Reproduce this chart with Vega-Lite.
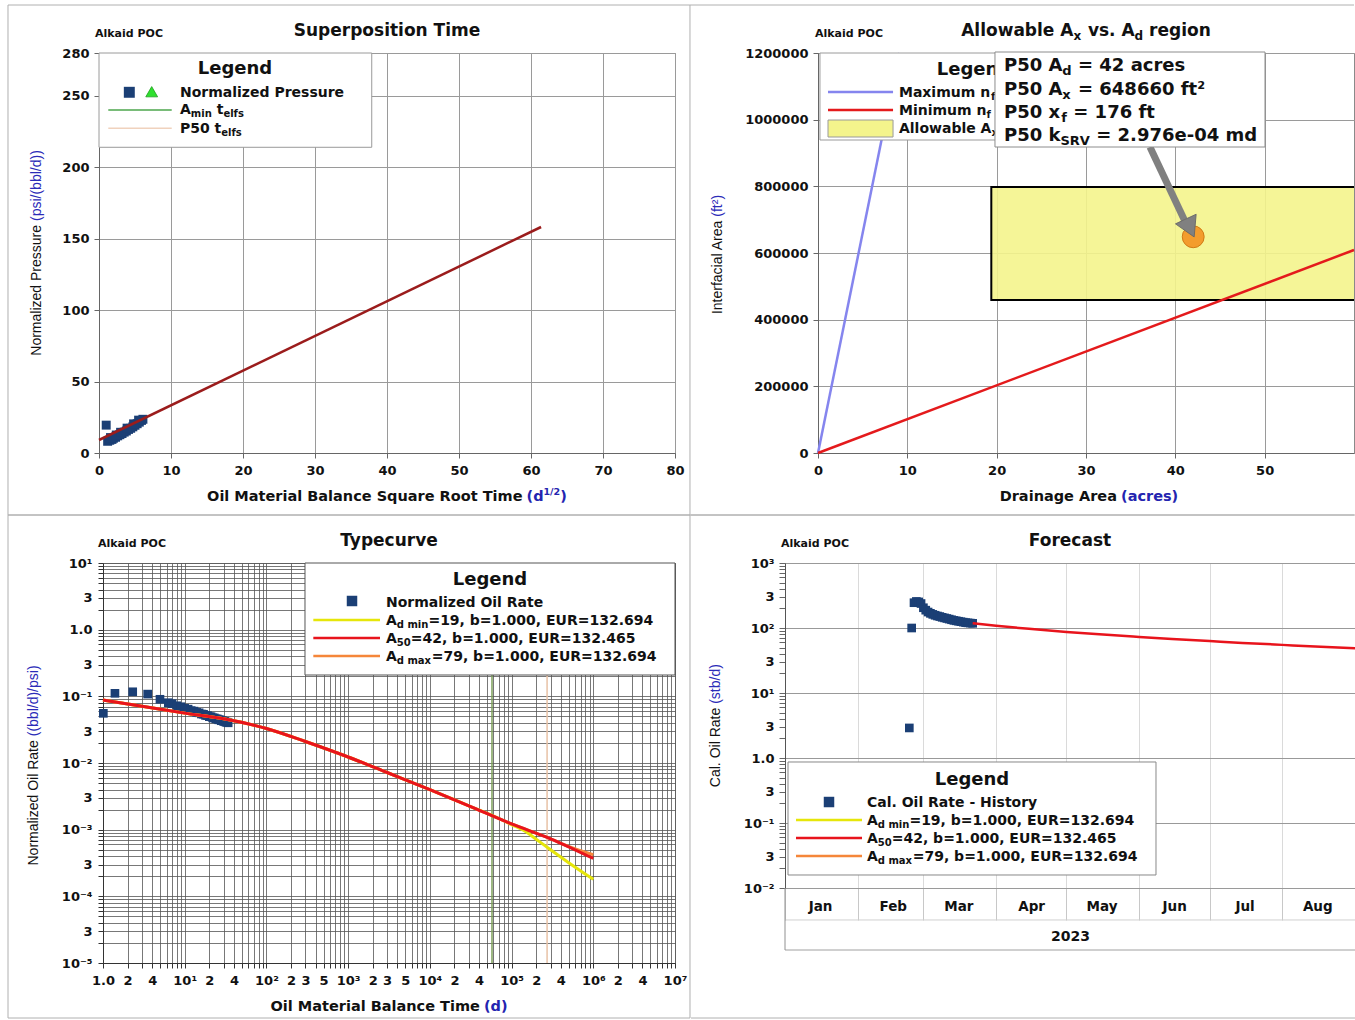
{
"$schema": "https://vega.github.io/schema/vega-lite/v6.json",
"background": "white",
"padding": {"left": 6, "top": 3, "right": 0, "bottom": 0},
"spacing": -2,
"config": {
  "view": {"stroke": "#8a8a8a", "strokeWidth": 1},
  "axis": {"labelFont": "DejaVu Sans", "labelFontWeight": "bold", "labelFontSize": 13, "labelColor": "#111", "titleFont": "DejaVu Sans", "titleFontWeight": "bold", "titleFontSize": 14, "titleColor": "#111", "domainColor": "#666", "tickColor": "#666", "gridColor": "#9a9a9a", "labelOverlap": false, "labelFlush": false},
  "text": {"font": "DejaVu Sans", "fontWeight": "bold", "fontSize": 14, "align": "left", "baseline": "alphabetic", "color": "#111"}
},
"datasets": {
  "tl_points": [{"x":1.0,"y":19.5},{"x":1.2,"y":8.2},{"x":1.5,"y":8.9},{"x":1.8,"y":9.5},{"x":2.0,"y":10.3},{"x":2.3,"y":11.0},{"x":2.6,"y":12.0},{"x":2.9,"y":12.8},{"x":3.2,"y":13.6},{"x":3.5,"y":14.6},{"x":3.8,"y":15.4},{"x":4.1,"y":16.5},{"x":4.4,"y":17.3},{"x":4.7,"y":18.3},{"x":5.0,"y":19.4},{"x":5.3,"y":20.5},{"x":5.6,"y":21.6},{"x":5.9,"y":22.8},{"x":6.1,"y":23.6},{"x":1.6,"y":10.8},{"x":2.4,"y":12.6},{"x":3.0,"y":14.5},{"x":3.9,"y":17.4},{"x":4.8,"y":20.4},{"x":5.5,"y":23.0}],
  "tl_fit": [{"x":0,"y":9.1},{"x":61.4,"y":158.2}],
  "tr_lines": [{"series":"Maximum nf","x":0,"y":0},{"series":"Maximum nf","x":9.09,"y":1200000},{"series":"Minimum nf","x":0,"y":0},{"series":"Minimum nf","x":60,"y":609000}],
  "tr_region": [{"xmin":19.4,"xmax":79,"ymin":459000,"ymax":798000}],
  "tr_p50": [{"Ad":42,"Ax":648660}],
  "bl_points": [{"t":1.01,"q":0.0556},{"t":1.4,"q":0.111},{"t":2.31,"q":0.117},{"t":3.52,"q":0.108},{"t":4.98,"q":0.0903},{"t":6.3,"q":0.0802},{"t":7,"q":0.0775},{"t":8,"q":0.0722},{"t":9,"q":0.0698},{"t":10,"q":0.066},{"t":11,"q":0.0642},{"t":12,"q":0.0611},{"t":13,"q":0.06},{"t":14,"q":0.0574},{"t":15,"q":0.0566},{"t":16,"q":0.0543},{"t":17,"q":0.0538},{"t":18,"q":0.0517},{"t":19,"q":0.0514},{"t":20,"q":0.0495},{"t":21,"q":0.0494},{"t":22,"q":0.0476},{"t":23,"q":0.0475},{"t":24,"q":0.0459},{"t":25,"q":0.0459},{"t":26,"q":0.0445},{"t":27,"q":0.0445},{"t":28,"q":0.0431},{"t":29,"q":0.0432},{"t":30,"q":0.042},{"t":31,"q":0.042},{"t":32,"q":0.0409},{"t":33,"q":0.0409},{"t":34,"q":0.0401}],
  "bl_curves": [
    {"s":"A50","t":1,"q":0.088},{"s":"A50","t":3,"q":0.071},{"s":"A50","t":10,"q":0.056},{"s":"A50","t":30,"q":0.046},{"s":"A50","t":100,"q":0.033},{"s":"A50","t":300,"q":0.021},{"s":"A50","t":1000,"q":0.0123},{"s":"A50","t":3000,"q":0.0072},{"s":"A50","t":10000,"q":0.004},{"s":"A50","t":30000,"q":0.00228},{"s":"A50","t":100000,"q":0.00122},{"s":"A50","t":300000,"q":0.00073},{"s":"A50","t":1000000,"q":0.00037},
    {"s":"Admin","t":1,"q":0.088},{"s":"Admin","t":3,"q":0.071},{"s":"Admin","t":10,"q":0.056},{"s":"Admin","t":30,"q":0.046},{"s":"Admin","t":100,"q":0.033},{"s":"Admin","t":300,"q":0.021},{"s":"Admin","t":1000,"q":0.0123},{"s":"Admin","t":3000,"q":0.0072},{"s":"Admin","t":10000,"q":0.004},{"s":"Admin","t":30000,"q":0.00228},{"s":"Admin","t":70000,"q":0.00147},{"s":"Admin","t":100000,"q":0.00119},{"s":"Admin","t":150000,"q":0.00093},{"s":"Admin","t":200000,"q":0.00072},{"s":"Admin","t":300000,"q":0.0005},{"s":"Admin","t":500000,"q":0.00032},{"s":"Admin","t":1000000,"q":0.00018},
    {"s":"Admax","t":1,"q":0.088},{"s":"Admax","t":3,"q":0.071},{"s":"Admax","t":10,"q":0.056},{"s":"Admax","t":30,"q":0.046},{"s":"Admax","t":100,"q":0.033},{"s":"Admax","t":300,"q":0.021},{"s":"Admax","t":1000,"q":0.0123},{"s":"Admax","t":3000,"q":0.0072},{"s":"Admax","t":10000,"q":0.004},{"s":"Admax","t":30000,"q":0.00228},{"s":"Admax","t":100000,"q":0.00122},{"s":"Admax","t":300000,"q":0.00073},{"s":"Admax","t":500000,"q":0.00056},{"s":"Admax","t":1000000,"q":0.00042}
  ],
  "bl_telfs": [{"name":"Amin telfs","t":57600},{"name":"P50 telfs","t":272000}],
  "br_hist": [{"date":"2023-02-23","q":2.9},{"date":"2023-02-24","q":100},{"date":"2023-02-25","q":245},{"date":"2023-02-26","q":256},{"date":"2023-02-27","q":252},{"date":"2023-02-28","q":238},{"date":"2023-03-01","q":205},{"date":"2023-03-02","q":188},{"date":"2023-03-03","q":176},{"date":"2023-03-04","q":168},{"date":"2023-03-05","q":162},{"date":"2023-03-06","q":157},{"date":"2023-03-07","q":153},{"date":"2023-03-08","q":150},{"date":"2023-03-09","q":146},{"date":"2023-03-10","q":143},{"date":"2023-03-11","q":140},{"date":"2023-03-12","q":137},{"date":"2023-03-13","q":134},{"date":"2023-03-14","q":131},{"date":"2023-03-15","q":129},{"date":"2023-03-16","q":127},{"date":"2023-03-17","q":125},{"date":"2023-03-18","q":123},{"date":"2023-03-19","q":121},{"date":"2023-03-20","q":120},{"date":"2023-03-21","q":119},{"date":"2023-03-22","q":118}],
  "br_fc": [{"date":"2023-03-22","q":118},{"date":"2023-04-01","q":108},{"date":"2023-04-15","q":97},{"date":"2023-05-01","q":87},{"date":"2023-05-15","q":80},{"date":"2023-06-01","q":73},{"date":"2023-06-15","q":68},{"date":"2023-07-01","q":63},{"date":"2023-07-15","q":59},{"date":"2023-08-01","q":55},{"date":"2023-08-15","q":52},{"date":"2023-09-01","q":49}]
},
"vconcat": [
 {"spacing": -3, "hconcat": [
  {"width": 576, "height": 400, "layer": [
   {"data":{"values":[{}]},"mark":{"type":"rect","fill":"transparent","stroke":"#b0b0b0","strokeWidth":1},
    "encoding":{"x":{"datum":-12.64,"type":"quantitative","scale":{"domain":[0,80],"nice":false,"zero":false},"axis":{"title":null,"values":[0,10,20,30,40,50,60,70,80],"grid":true,"tickSize":5,"labelPadding":6}},
     "x2":{"datum":82.08},
     "y":{"datum":313.6,"type":"quantitative","scale":{"domain":[0,280],"nice":false,"zero":false},"axis":{"title":null,"values":[0,50,100,150,200,250,280],"grid":true,"tickSize":5,"labelPadding":5}},
     "y2":{"datum":-43.4}}},
   {"data":{"name":"tl_points"},"mark":{"type":"square","size":80,"color":"#1B3F75","opacity":1},"encoding":{"x":{"field":"x","type":"quantitative"},"y":{"field":"y","type":"quantitative"}}},
   {"data":{"name":"tl_fit"},"mark":{"type":"line","color":"#9B1C1C","strokeWidth":2.5},"encoding":{"x":{"field":"x","type":"quantitative"},"y":{"field":"y","type":"quantitative"}}},
   {"data":{"values":[{}]},"mark":{"type":"rect","fill":"white","stroke":"#9a9a9a","strokeWidth":1},"encoding":{"x":{"datum":0,"type":"quantitative"},"x2":{"datum":37.88},"y":{"datum":280,"type":"quantitative"},"y2":{"datum":214}}},
   {"data":{"values":[{}]},"mark":{"type":"square","size":120,"color":"#1B3F75","opacity":1},"encoding":{"x":{"datum":4.21,"type":"quantitative"},"y":{"datum":252.5,"type":"quantitative"}}},
   {"data":{"values":[{}]},"mark":{"type":"point","shape":"triangle-up","size":140,"filled":true,"fill":"#2FE02F","stroke":"#1E9E1E","strokeWidth":0.8,"opacity":1},"encoding":{"x":{"datum":7.32,"type":"quantitative"},"y":{"datum":252.9,"type":"quantitative"}}},
   {"data":{"values":[{}]},"mark":{"type":"rule","color":"#4DA64D","strokeWidth":1.5},"encoding":{"x":{"datum":1.29,"type":"quantitative"},"x2":{"datum":10.1},"y":{"datum":240.1,"type":"quantitative"}}},
   {"data":{"values":[{}]},"mark":{"type":"rule","color":"#F0D2BD","strokeWidth":1.5},"encoding":{"x":{"datum":1.29,"type":"quantitative"},"x2":{"datum":10.1},"y":{"datum":227.3,"type":"quantitative"}}},
   {"data":{"values":[{}]},"mark":{"type":"text","text":"Legend","fontSize":18,"align":"center","dx":136,"dy":21.3},"encoding":{"x":{"datum":0,"type":"quantitative"},"y":{"datum":280,"type":"quantitative"}}},
   {"data":{"values":[{}]},"mark":{"type":"text","text":"Normalized Pressure","dx":81,"dy":44.3},"encoding":{"x":{"datum":0,"type":"quantitative"},"y":{"datum":280,"type":"quantitative"}}},
   {"data":{"values":[{}]},"mark":{"type":"text","text":"A","dx":81,"dy":61},"encoding":{"x":{"datum":0,"type":"quantitative"},"y":{"datum":280,"type":"quantitative"}}},
   {"data":{"values":[{}]},"mark":{"type":"text","text":"min","fontSize":10,"dx":91.8,"dy":64},"encoding":{"x":{"datum":0,"type":"quantitative"},"y":{"datum":280,"type":"quantitative"}}},
   {"data":{"values":[{}]},"mark":{"type":"text","text":"t","dx":117.7,"dy":61},"encoding":{"x":{"datum":0,"type":"quantitative"},"y":{"datum":280,"type":"quantitative"}}},
   {"data":{"values":[{}]},"mark":{"type":"text","text":"elfs","fontSize":10,"dx":124.4,"dy":64},"encoding":{"x":{"datum":0,"type":"quantitative"},"y":{"datum":280,"type":"quantitative"}}},
   {"data":{"values":[{}]},"mark":{"type":"text","text":"P50","dx":81,"dy":79.7},"encoding":{"x":{"datum":0,"type":"quantitative"},"y":{"datum":280,"type":"quantitative"}}},
   {"data":{"values":[{}]},"mark":{"type":"text","text":"t","dx":115.6,"dy":79.7},"encoding":{"x":{"datum":0,"type":"quantitative"},"y":{"datum":280,"type":"quantitative"}}},
   {"data":{"values":[{}]},"mark":{"type":"text","text":"elfs","fontSize":10,"dx":122.3,"dy":82.7},"encoding":{"x":{"datum":0,"type":"quantitative"},"y":{"datum":280,"type":"quantitative"}}},
   {"data":{"values":[{}]},"mark":{"type":"text","text":"Superposition Time","fontSize":17,"align":"center","dy":-17},"encoding":{"x":{"datum":40,"type":"quantitative"},"y":{"datum":280,"type":"quantitative"}}},
   {"data":{"values":[{}]},"mark":{"type":"text","text":"Alkaid POC","fontSize":11,"dx":-4,"dy":-16},"encoding":{"x":{"datum":0,"type":"quantitative"},"y":{"datum":280,"type":"quantitative"}}},
   {"data":{"values":[{}]},"mark":{"type":"text","text":"Normalized Pressure","angle":270,"align":"right","baseline":"middle","font":"Liberation Sans","fontWeight":"normal","fontSize":14},"encoding":{"x":{"datum":-8.61,"type":"quantitative"},"y":{"datum":159.6,"type":"quantitative"}}},
   {"data":{"values":[{}]},"mark":{"type":"text","text":"(psi/(bbl/d))","angle":270,"align":"left","baseline":"middle","font":"Liberation Sans","fontWeight":"normal","fontSize":14,"dx":4,"color":"#2B2BB8"},"encoding":{"x":{"datum":-8.61,"type":"quantitative"},"y":{"datum":159.6,"type":"quantitative"}}},
   {"data":{"values":[{}]},"mark":{"type":"text","text":"Oil Material Balance Square Root Time","fontSize":14.5,"align":"right","dy":48},"encoding":{"x":{"datum":58.82,"type":"quantitative"},"y":{"datum":0,"type":"quantitative"}}},
   {"data":{"values":[{}]},"mark":{"type":"text","text":"(d","fontSize":14.5,"dx":4,"dy":48,"color":"#2424B0"},"encoding":{"x":{"datum":58.82,"type":"quantitative"},"y":{"datum":0,"type":"quantitative"}}},
   {"data":{"values":[{}]},"mark":{"type":"text","text":"1/2","fontSize":9.5,"dx":21,"dy":42,"color":"#2424B0"},"encoding":{"x":{"datum":58.82,"type":"quantitative"},"y":{"datum":0,"type":"quantitative"}}},
   {"data":{"values":[{}]},"mark":{"type":"text","text":")","fontSize":14.5,"dx":37.7,"dy":48,"color":"#2424B0"},"encoding":{"x":{"datum":58.82,"type":"quantitative"},"y":{"datum":0,"type":"quantitative"}}}
  ]},
  {"width": 536, "height": 400, "layer": [
   {"data":{"values":[{}]},"mark":{"type":"rule","color":"#b0b0b0","strokeWidth":1},
    "encoding":{"x":{"datum":-14.33,"type":"quantitative","scale":{"domain":[0,60],"nice":false,"zero":false},"axis":{"title":null,"values":[0,10,20,30,40,50],"grid":true,"tickSize":5,"labelPadding":6}},
     "x2":{"datum":60},
     "y":{"datum":1344000,"type":"quantitative","scale":{"domain":[0,1200000],"nice":false,"zero":false},"axis":{"title":null,"values":[0,200000,400000,600000,800000,1000000,1200000],"format":"d","grid":true,"tickSize":5,"labelPadding":5}}}},
   {"data":{"values":[{}]},"mark":{"type":"rule","color":"#b0b0b0","strokeWidth":1},"encoding":{"x":{"datum":-14.33,"type":"quantitative"},"x2":{"datum":60},"y":{"datum":-186000,"type":"quantitative"}}},
   {"data":{"name":"tr_region"},"mark":{"type":"rect","fill":"#F4F48C","fillOpacity":0.9,"stroke":"#000","strokeWidth":2,"clip":true},"encoding":{"x":{"field":"xmin","type":"quantitative"},"x2":{"field":"xmax"},"y":{"field":"ymin","type":"quantitative"},"y2":{"field":"ymax"}}},
   {"data":{"name":"tr_lines"},"transform":[{"filter":"datum.series == 'Maximum nf'"}],"mark":{"type":"line","color":"#8585EE","strokeWidth":2.5},"encoding":{"x":{"field":"x","type":"quantitative"},"y":{"field":"y","type":"quantitative"}}},
   {"data":{"name":"tr_lines"},"transform":[{"filter":"datum.series == 'Minimum nf'"}],"mark":{"type":"line","color":"#E41A1C","strokeWidth":2.5},"encoding":{"x":{"field":"x","type":"quantitative"},"y":{"field":"y","type":"quantitative"}}},
   {"data":{"name":"tr_p50"},"mark":{"type":"circle","size":480,"fill":"#F39C2D","stroke":"#D07A15","strokeWidth":1,"opacity":1},"encoding":{"x":{"field":"Ad","type":"quantitative"},"y":{"field":"Ax","type":"quantitative"}}},
   {"data":{"values":[{}]},"mark":{"type":"rule","color":"#808080","strokeWidth":7},"encoding":{"x":{"datum":37.16,"type":"quantitative"},"y":{"datum":918000,"type":"quantitative"},"x2":{"datum":41.0},"y2":{"datum":700000}}},
   {"data":{"values":[{}]},"mark":{"type":"point","shape":"triangle-down","size":520,"angle":335,"filled":true,"fill":"#808080","stroke":"#666","strokeWidth":0.8,"opacity":1},"encoding":{"x":{"datum":41.64,"type":"quantitative"},"y":{"datum":675000,"type":"quantitative"}}},
   {"data":{"values":[{}]},"mark":{"type":"rect","fill":"white","stroke":"#9a9a9a","strokeWidth":1},"encoding":{"x":{"datum":0.22,"type":"quantitative"},"x2":{"datum":25},"y":{"datum":1200000,"type":"quantitative"},"y2":{"datum":939000}}},
   {"data":{"values":[{}]},"mark":{"type":"rule","color":"#8585EE","strokeWidth":2.5},"encoding":{"x":{"datum":1.12,"type":"quantitative"},"x2":{"datum":8.4},"y":{"datum":1083000,"type":"quantitative"}}},
   {"data":{"values":[{}]},"mark":{"type":"rule","color":"#E41A1C","strokeWidth":2.5},"encoding":{"x":{"datum":1.12,"type":"quantitative"},"x2":{"datum":8.4},"y":{"datum":1029000,"type":"quantitative"}}},
   {"data":{"values":[{}]},"mark":{"type":"rect","fill":"#F4F48C","stroke":"#9a9a9a","strokeWidth":1},"encoding":{"x":{"datum":1.12,"type":"quantitative"},"x2":{"datum":8.4},"y":{"datum":999000,"type":"quantitative"},"y2":{"datum":948000}}},
   {"data":{"values":[{}]},"mark":{"type":"text","text":"Legend","fontSize":18,"align":"center","dx":154,"dy":22},"encoding":{"x":{"datum":0.22,"type":"quantitative"},"y":{"datum":1200000,"type":"quantitative"}}},
   {"data":{"values":[{}]},"mark":{"type":"text","text":"Maximum n","dx":79,"dy":44},"encoding":{"x":{"datum":0.22,"type":"quantitative"},"y":{"datum":1200000,"type":"quantitative"}}},
   {"data":{"values":[{}]},"mark":{"type":"text","text":"f","fontSize":10,"dx":171.1,"dy":47},"encoding":{"x":{"datum":0.22,"type":"quantitative"},"y":{"datum":1200000,"type":"quantitative"}}},
   {"data":{"values":[{}]},"mark":{"type":"text","text":"Minimum n","dx":79,"dy":62},"encoding":{"x":{"datum":0.22,"type":"quantitative"},"y":{"datum":1200000,"type":"quantitative"}}},
   {"data":{"values":[{}]},"mark":{"type":"text","text":"f","fontSize":10,"dx":166.5,"dy":65},"encoding":{"x":{"datum":0.22,"type":"quantitative"},"y":{"datum":1200000,"type":"quantitative"}}},
   {"data":{"values":[{}]},"mark":{"type":"text","text":"Allowable A","dx":79,"dy":80},"encoding":{"x":{"datum":0.22,"type":"quantitative"},"y":{"datum":1200000,"type":"quantitative"}}},
   {"data":{"values":[{}]},"mark":{"type":"text","text":"x","fontSize":10,"dx":171.5,"dy":83},"encoding":{"x":{"datum":0.22,"type":"quantitative"},"y":{"datum":1200000,"type":"quantitative"}}},
   {"data":{"values":[{}]},"mark":{"type":"rect","fill":"white","stroke":"#8c8c8c","strokeWidth":1},"encoding":{"x":{"datum":19.81,"type":"quantitative"},"x2":{"datum":50.04},"y":{"datum":1203000,"type":"quantitative"},"y2":{"datum":918000}}},
   {"data":{"values":[{}]},"mark":{"type":"text","text":"P50 A","fontSize":18,"dx":9,"dy":19},"encoding":{"x":{"datum":19.81,"type":"quantitative"},"y":{"datum":1203000,"type":"quantitative"}}},
   {"data":{"values":[{}]},"mark":{"type":"text","text":"d","fontSize":13,"dx":67.4,"dy":23},"encoding":{"x":{"datum":19.81,"type":"quantitative"},"y":{"datum":1203000,"type":"quantitative"}}},
   {"data":{"values":[{}]},"mark":{"type":"text","text":"= 42 acres","fontSize":18,"dx":83,"dy":19},"encoding":{"x":{"datum":19.81,"type":"quantitative"},"y":{"datum":1203000,"type":"quantitative"}}},
   {"data":{"values":[{}]},"mark":{"type":"text","text":"P50 A","fontSize":18,"dx":9,"dy":42.5},"encoding":{"x":{"datum":19.81,"type":"quantitative"},"y":{"datum":1203000,"type":"quantitative"}}},
   {"data":{"values":[{}]},"mark":{"type":"text","text":"x","fontSize":13,"dx":67.4,"dy":46.5},"encoding":{"x":{"datum":19.81,"type":"quantitative"},"y":{"datum":1203000,"type":"quantitative"}}},
   {"data":{"values":[{}]},"mark":{"type":"text","text":"= 648660 ft²","fontSize":18,"dx":83,"dy":42.5},"encoding":{"x":{"datum":19.81,"type":"quantitative"},"y":{"datum":1203000,"type":"quantitative"}}},
   {"data":{"values":[{}]},"mark":{"type":"text","text":"P50 x","fontSize":18,"dx":9,"dy":66},"encoding":{"x":{"datum":19.81,"type":"quantitative"},"y":{"datum":1203000,"type":"quantitative"}}},
   {"data":{"values":[{}]},"mark":{"type":"text","text":"f","fontSize":13,"dx":66.3,"dy":70},"encoding":{"x":{"datum":19.81,"type":"quantitative"},"y":{"datum":1203000,"type":"quantitative"}}},
   {"data":{"values":[{}]},"mark":{"type":"text","text":"= 176 ft","fontSize":18,"dx":78.3,"dy":66},"encoding":{"x":{"datum":19.81,"type":"quantitative"},"y":{"datum":1203000,"type":"quantitative"}}},
   {"data":{"values":[{}]},"mark":{"type":"text","text":"P50 k","fontSize":18,"dx":9,"dy":89},"encoding":{"x":{"datum":19.81,"type":"quantitative"},"y":{"datum":1203000,"type":"quantitative"}}},
   {"data":{"values":[{}]},"mark":{"type":"text","text":"SRV","fontSize":13,"dx":65.5,"dy":93},"encoding":{"x":{"datum":19.81,"type":"quantitative"},"y":{"datum":1203000,"type":"quantitative"}}},
   {"data":{"values":[{}]},"mark":{"type":"text","text":"= 2.976e-04 md","fontSize":18,"dx":101.2,"dy":89},"encoding":{"x":{"datum":19.81,"type":"quantitative"},"y":{"datum":1203000,"type":"quantitative"}}},
   {"data":{"values":[{}]},"mark":{"type":"text","text":"Allowable A","fontSize":17,"dy":-17},"encoding":{"x":{"datum":16.03,"type":"quantitative"},"y":{"datum":1200000,"type":"quantitative"}}},
   {"data":{"values":[{}]},"mark":{"type":"text","text":"x","fontSize":12,"dx":112.3,"dy":-13},"encoding":{"x":{"datum":16.03,"type":"quantitative"},"y":{"datum":1200000,"type":"quantitative"}}},
   {"data":{"values":[{}]},"mark":{"type":"text","text":"vs. A","fontSize":17,"dx":126.7,"dy":-17},"encoding":{"x":{"datum":16.03,"type":"quantitative"},"y":{"datum":1200000,"type":"quantitative"}}},
   {"data":{"values":[{}]},"mark":{"type":"text","text":"d","fontSize":12,"dx":173.4,"dy":-13},"encoding":{"x":{"datum":16.03,"type":"quantitative"},"y":{"datum":1200000,"type":"quantitative"}}},
   {"data":{"values":[{}]},"mark":{"type":"text","text":"region","fontSize":17,"dx":187.9,"dy":-17},"encoding":{"x":{"datum":16.03,"type":"quantitative"},"y":{"datum":1200000,"type":"quantitative"}}},
   {"data":{"values":[{}]},"mark":{"type":"text","text":"Alkaid POC","fontSize":11,"dx":-3,"dy":-16},"encoding":{"x":{"datum":0,"type":"quantitative"},"y":{"datum":1200000,"type":"quantitative"}}},
   {"data":{"values":[{}]},"mark":{"type":"text","text":"Interfacial Area","angle":270,"align":"right","baseline":"middle","font":"Liberation Sans","fontWeight":"normal","fontSize":14},"encoding":{"x":{"datum":-11.19,"type":"quantitative"},"y":{"datum":696900,"type":"quantitative"}}},
   {"data":{"values":[{}]},"mark":{"type":"text","text":"(ft²)","angle":270,"align":"left","baseline":"middle","font":"Liberation Sans","fontWeight":"normal","fontSize":14,"dx":4,"color":"#2B2BB8"},"encoding":{"x":{"datum":-11.19,"type":"quantitative"},"y":{"datum":696900,"type":"quantitative"}}},
   {"data":{"values":[{}]},"mark":{"type":"text","text":"Drainage Area","fontSize":14.5,"align":"right","dy":48},"encoding":{"x":{"datum":33.47,"type":"quantitative"},"y":{"datum":0,"type":"quantitative"}}},
   {"data":{"values":[{}]},"mark":{"type":"text","text":"(acres)","fontSize":14.5,"dx":4,"dy":48,"color":"#2424B0"},"encoding":{"x":{"datum":33.47,"type":"quantitative"},"y":{"datum":0,"type":"quantitative"}}}
  ]}
 ]},
 {"spacing": -93, "hconcat": [
  {"width": 1, "height": 1, "view": {"stroke": null}, "data": {"values": [{}]}, "mark": {"type": "rect", "fill": "white", "opacity": 0}, "encoding": {}},
  {"spacing": -1, "hconcat": [
  {"width": 572, "height": 400, "layer": [
   {"data":{"values":[{}]},"mark":{"type":"rect","fill":"transparent","stroke":"#b0b0b0","strokeWidth":1},
    "encoding":{"x":{"datum":0.06878,"type":"quantitative","scale":{"type":"log","domain":[1,10000000],"nice":false},"axis":{"title":null,"values":[1,2,3,4,5,6,7,8,9,10,20,30,40,50,60,70,80,90,100,200,300,400,500,600,700,800,900,1000,2000,3000,4000,5000,6000,7000,8000,9000,10000,20000,30000,40000,50000,60000,70000,80000,90000,100000,200000,300000,400000,500000,600000,700000,800000,900000,1000000,2000000,3000000,4000000,5000000,6000000,7000000,8000000,9000000,10000000],
       "labelExpr":"indexof([1,2,4,10,20,40,100,200,300,500,1000,2000,3000,5000,10000,20000,40000,100000,200000,400000,1000000,2000000,4000000,10000000], datum.value) < 0 ? '' : datum.value == 1 ? '1.0' : abs(log(datum.value)/LN10 - round(log(datum.value)/LN10)) < 1e-6 ? '10' + (datum.value < 1 ? '⁻' : '') + ['⁰','¹','²','³','⁴','⁵','⁶','⁷'][abs(round(log(datum.value)/LN10))] : format(round(datum.value / pow(10, floor(log(datum.value)/LN10 + 1e-9))), 'd')",
       "grid":true,"gridColor":"#555","gridWidth":0.8,"tickSize":5,"labelPadding":6,"domainColor":"#333","tickColor":"#333"}},
     "x2":{"datum":15260000},
     "y":{"datum":52.48,"type":"quantitative","scale":{"type":"log","domain":[0.00001,10],"nice":false},"axis":{"title":null,"values":[0.00001,0.00002,0.00003,0.00004,0.00005,0.00006,0.00007,0.00008,0.00009,0.0001,0.0002,0.0003,0.0004,0.0005,0.0006,0.0007,0.0008,0.0009,0.001,0.002,0.003,0.004,0.005,0.006,0.007,0.008,0.009,0.01,0.02,0.03,0.04,0.05,0.06,0.07,0.08,0.09,0.1,0.2,0.3,0.4,0.5,0.6,0.7,0.8,0.9,1,2,3,4,5,6,7,8,9,10],
       "labelExpr":"indexof([0.00001,0.00003,0.0001,0.0003,0.001,0.003,0.01,0.03,0.1,0.3,1,3,10], datum.value) < 0 ? '' : datum.value == 1 ? '1.0' : abs(log(datum.value)/LN10 - round(log(datum.value)/LN10)) < 1e-6 ? '10' + (datum.value < 1 ? '⁻' : '') + ['⁰','¹','²','³','⁴','⁵','⁶','⁷'][abs(round(log(datum.value)/LN10))] : format(round(datum.value / pow(10, floor(log(datum.value)/LN10 + 1e-9))), 'd')",
       "grid":true,"gridColor":"#555","gridWidth":0.8,"tickSize":5,"labelPadding":6,"domainColor":"#333","tickColor":"#333"}},
     "y2":{"datum":0.000001496}}},
   {"data":{"name":"bl_telfs"},"mark":{"type":"rule","strokeWidth":1.5},"encoding":{"x":{"field":"t","type":"quantitative"},"color":{"field":"name","type":"nominal","scale":{"domain":["Amin telfs","P50 telfs"],"range":["#7DA05A","#E8C2A6"]},"legend":null}}},
   {"data":{"name":"bl_points"},"mark":{"type":"square","size":75,"color":"#1B3F75","opacity":1},"encoding":{"x":{"field":"t","type":"quantitative"},"y":{"field":"q","type":"quantitative"}}},
   {"data":{"name":"bl_curves"},"transform":[{"filter":"datum.s == 'Admin'"}],"mark":{"type":"line","color":"#E6E60A","strokeWidth":3,"interpolate":"monotone"},"encoding":{"x":{"field":"t","type":"quantitative"},"y":{"field":"q","type":"quantitative"}}},
   {"data":{"name":"bl_curves"},"transform":[{"filter":"datum.s == 'Admax'"}],"mark":{"type":"line","color":"#F5863A","strokeWidth":3,"interpolate":"monotone"},"encoding":{"x":{"field":"t","type":"quantitative"},"y":{"field":"q","type":"quantitative"}}},
   {"data":{"name":"bl_curves"},"transform":[{"filter":"datum.s == 'A50'"}],"mark":{"type":"line","color":"#E8141C","strokeWidth":3,"interpolate":"monotone"},"encoding":{"x":{"field":"t","type":"quantitative"},"y":{"field":"q","type":"quantitative"}}},
   {"data":{"values":[{}]},"mark":{"type":"rect","fill":"white","stroke":"#555","strokeWidth":1},"encoding":{"x":{"datum":296.5,"type":"quantitative"},"x2":{"datum":10000000},"y":{"datum":10,"type":"quantitative"},"y2":{"datum":0.2089}}},
   {"data":{"values":[{}]},"mark":{"type":"square","size":110,"color":"#1B3F75","opacity":1},"encoding":{"x":{"datum":1115,"type":"quantitative"},"y":{"datum":2.692,"type":"quantitative"}}},
   {"data":{"values":[{}]},"mark":{"type":"rule","color":"#E6E60A","strokeWidth":2.5},"encoding":{"x":{"datum":374.8,"type":"quantitative"},"x2":{"datum":2454},"y":{"datum":1.396,"type":"quantitative"}}},
   {"data":{"values":[{}]},"mark":{"type":"rule","color":"#E8141C","strokeWidth":2.5},"encoding":{"x":{"datum":374.8,"type":"quantitative"},"x2":{"datum":2454},"y":{"datum":0.75,"type":"quantitative"}}},
   {"data":{"values":[{}]},"mark":{"type":"rule","color":"#F5863A","strokeWidth":2.5},"encoding":{"x":{"datum":374.8,"type":"quantitative"},"x2":{"datum":2454},"y":{"datum":0.4027,"type":"quantitative"}}},
   {"data":{"values":[{}]},"mark":{"type":"text","text":"Legend","fontSize":18,"align":"center","dx":185,"dy":22},"encoding":{"x":{"datum":296.5,"type":"quantitative"},"y":{"datum":10,"type":"quantitative"}}},
   {"data":{"values":[{}]},"mark":{"type":"text","text":"Normalized Oil Rate","dx":81,"dy":44},"encoding":{"x":{"datum":296.5,"type":"quantitative"},"y":{"datum":10,"type":"quantitative"}}},
   {"data":{"values":[{}]},"mark":{"type":"text","text":"A","dx":81,"dy":62},"encoding":{"x":{"datum":296.5,"type":"quantitative"},"y":{"datum":10,"type":"quantitative"}}},
   {"data":{"values":[{}]},"mark":{"type":"text","text":"d min","fontSize":10,"dx":91.8,"dy":65},"encoding":{"x":{"datum":296.5,"type":"quantitative"},"y":{"datum":10,"type":"quantitative"}}},
   {"data":{"values":[{}]},"mark":{"type":"text","text":"=19, b=1.000, EUR=132.694","dx":123.4,"dy":62},"encoding":{"x":{"datum":296.5,"type":"quantitative"},"y":{"datum":10,"type":"quantitative"}}},
   {"data":{"values":[{}]},"mark":{"type":"text","text":"A","dx":81,"dy":80},"encoding":{"x":{"datum":296.5,"type":"quantitative"},"y":{"datum":10,"type":"quantitative"}}},
   {"data":{"values":[{}]},"mark":{"type":"text","text":"50","fontSize":10,"dx":91.8,"dy":83},"encoding":{"x":{"datum":296.5,"type":"quantitative"},"y":{"datum":10,"type":"quantitative"}}},
   {"data":{"values":[{}]},"mark":{"type":"text","text":"=42, b=1.000, EUR=132.465","dx":105.7,"dy":80},"encoding":{"x":{"datum":296.5,"type":"quantitative"},"y":{"datum":10,"type":"quantitative"}}},
   {"data":{"values":[{}]},"mark":{"type":"text","text":"A","dx":81,"dy":98},"encoding":{"x":{"datum":296.5,"type":"quantitative"},"y":{"datum":10,"type":"quantitative"}}},
   {"data":{"values":[{}]},"mark":{"type":"text","text":"d max","fontSize":10,"dx":91.8,"dy":101},"encoding":{"x":{"datum":296.5,"type":"quantitative"},"y":{"datum":10,"type":"quantitative"}}},
   {"data":{"values":[{}]},"mark":{"type":"text","text":"=79, b=1.000, EUR=132.694","dx":126.7,"dy":98},"encoding":{"x":{"datum":296.5,"type":"quantitative"},"y":{"datum":10,"type":"quantitative"}}},
   {"data":{"values":[{}]},"mark":{"type":"text","text":"Typecurve","fontSize":17,"align":"center","dy":-17},"encoding":{"x":{"datum":3162.3,"type":"quantitative"},"y":{"datum":10,"type":"quantitative"}}},
   {"data":{"values":[{}]},"mark":{"type":"text","text":"Alkaid POC","fontSize":11,"dx":-5,"dy":-16},"encoding":{"x":{"datum":1,"type":"quantitative"},"y":{"datum":10,"type":"quantitative"}}},
   {"data":{"values":[{}]},"mark":{"type":"text","text":"Normalized Oil Rate","angle":270,"align":"right","baseline":"middle","font":"Liberation Sans","fontWeight":"normal","fontSize":14},"encoding":{"x":{"datum":0.1431,"type":"quantitative"},"y":{"datum":0.02195,"type":"quantitative"}}},
   {"data":{"values":[{}]},"mark":{"type":"text","text":"((bbl/d)/psi)","angle":270,"align":"left","baseline":"middle","font":"Liberation Sans","fontWeight":"normal","fontSize":14,"dx":4,"color":"#2B2BB8"},"encoding":{"x":{"datum":0.1431,"type":"quantitative"},"y":{"datum":0.02195,"type":"quantitative"}}},
   {"data":{"values":[{}]},"mark":{"type":"text","text":"Oil Material Balance Time","fontSize":14.5,"align":"right","dy":48},"encoding":{"x":{"datum":40970,"type":"quantitative"},"y":{"datum":0.00001,"type":"quantitative"}}},
   {"data":{"values":[{}]},"mark":{"type":"text","text":"(d)","fontSize":14.5,"dx":4,"dy":48,"color":"#2424B0"},"encoding":{"x":{"datum":40970,"type":"quantitative"},"y":{"datum":0.00001,"type":"quantitative"}}}
  ]},
  {"width": 570, "height": 325, "layer": [
   {"data":{"values":[{}]},"mark":{"type":"rule","color":"#b0b0b0","strokeWidth":1},
    "encoding":{"x":{"datum":{"year":2022,"month":11,"date":21,"hours":22,"minutes":20,"utc":true},"type":"temporal","scale":{"type":"utc","domain":[{"year":2023,"month":1,"date":1,"utc":true},{"year":2023,"month":9,"date":1,"utc":true}],"nice":false},
       "axis":{"title":"2023","values":[{"year":2023,"month":1,"date":1,"utc":true},{"year":2023,"month":2,"date":1,"utc":true},{"year":2023,"month":3,"date":1,"utc":true},{"year":2023,"month":4,"date":1,"utc":true},{"year":2023,"month":5,"date":1,"utc":true},{"year":2023,"month":6,"date":1,"utc":true},{"year":2023,"month":7,"date":1,"utc":true},{"year":2023,"month":8,"date":1,"utc":true}],
         "labelExpr":"utcFormat(datum.value, '%b')","labelOffset":35,"tickSize":32,"labelPadding":-21,"labelAlign":"center","labelBaseline":"top","labelFontSize":13.5,"grid":true,"gridColor":"#dadada","tickColor":"#c8c8c8","domainColor":"#9a9a9a","titlePadding":9,"titleFontSize":14}},
     "x2":{"datum":{"year":2023,"month":9,"date":1,"utc":true}},
     "y":{"datum":5474,"type":"quantitative","scale":{"type":"log","domain":[0.01,1000],"nice":false},
       "axis":{"title":null,"values":[0.01,0.02,0.03,0.04,0.05,0.06,0.07,0.08,0.09,0.1,0.2,0.3,0.4,0.5,0.6,0.7,0.8,0.9,1,2,3,4,5,6,7,8,9,10,20,30,40,50,60,70,80,90,100,200,300,400,500,600,700,800,900,1000],
         "labelExpr":"indexof([0.01,0.03,0.1,0.3,1,3,10,30,100,300,1000], datum.value) < 0 ? '' : datum.value == 1 ? '1.0' : abs(log(datum.value)/LN10 - round(log(datum.value)/LN10)) < 1e-6 ? '10' + (datum.value < 1 ? '⁻' : '') + ['⁰','¹','²','³','⁴','⁵','⁶','⁷'][abs(round(log(datum.value)/LN10))] : format(round(datum.value / pow(10, floor(log(datum.value)/LN10 + 1e-9))), 'd')",
         "grid":true,"gridColor":"#999","gridOpacity":{"condition":{"test":"abs(log(datum.value)/LN10 - round(log(datum.value)/LN10)) < 1e-6","value":1},"value":0},"tickSize":6,"labelPadding":5,"domainColor":"#555","tickColor":"#666"}}}},
   {"data":{"values":[{}]},"mark":{"type":"rule","color":"#b0b0b0","strokeWidth":1},"encoding":{"x":{"datum":{"year":2022,"month":11,"date":21,"hours":22,"minutes":20,"utc":true},"type":"temporal"},"x2":{"datum":{"year":2023,"month":9,"date":1,"utc":true}},"y":{"datum":0.0001,"type":"quantitative"}}},
   {"data":{"values":[{}]},"mark":{"type":"rule","color":"#d0d0d0","strokeWidth":1},"encoding":{"x":{"datum":{"year":2023,"month":1,"date":1,"utc":true},"type":"temporal"},"x2":{"datum":{"year":2023,"month":9,"date":1,"utc":true}},"y":{"datum":0.003221,"type":"quantitative"}}},
   {"data":{"values":[{}]},"mark":{"type":"rule","color":"#a0a0a0","strokeWidth":1},"encoding":{"x":{"datum":{"year":2023,"month":1,"date":1,"utc":true},"type":"temporal"},"x2":{"datum":{"year":2023,"month":9,"date":1,"utc":true}},"y":{"datum":0.001112,"type":"quantitative"}}},
   {"data":{"values":[{}]},"mark":{"type":"rule","color":"#909090","strokeWidth":1},"encoding":{"x":{"datum":{"year":2023,"month":1,"date":1,"utc":true},"type":"temporal"},"y":{"datum":0.01,"type":"quantitative"},"y2":{"datum":0.001112}}},
   {"data":{"name":"br_hist"},"mark":{"type":"square","size":75,"color":"#1B3F75","opacity":1},"encoding":{"x":{"field":"date","type":"temporal"},"y":{"field":"q","type":"quantitative"}}},
   {"data":{"name":"br_fc"},"mark":{"type":"line","color":"#E8141C","strokeWidth":2.5,"interpolate":"monotone"},"encoding":{"x":{"field":"date","type":"temporal"},"y":{"field":"q","type":"quantitative"}}},
   {"data":{"values":[{}]},"mark":{"type":"rect","fill":"white","stroke":"#888","strokeWidth":1},"encoding":{"x":{"datum":{"year":2023,"month":1,"date":2,"hours":6,"minutes":42,"utc":true},"type":"temporal"},"x2":{"datum":{"year":2023,"month":6,"date":8,"hours":3,"minutes":50,"utc":true}},"y":{"datum":0.868,"type":"quantitative"},"y2":{"datum":0.01585}}},
   {"data":{"values":[{}]},"mark":{"type":"square","size":110,"color":"#1B3F75","opacity":1},"encoding":{"x":{"datum":{"year":2023,"month":1,"date":19,"hours":18,"minutes":14,"utc":true},"type":"temporal"},"y":{"datum":0.2103,"type":"quantitative"}}},
   {"data":{"values":[{}]},"mark":{"type":"rule","color":"#E6E60A","strokeWidth":2.5},"encoding":{"x":{"datum":{"year":2023,"month":1,"date":5,"hours":16,"minutes":33,"utc":true},"type":"temporal"},"x2":{"datum":{"year":2023,"month":2,"date":2,"hours":19,"minutes":55,"utc":true}},"y":{"datum":0.1112,"type":"quantitative"}}},
   {"data":{"values":[{}]},"mark":{"type":"rule","color":"#E8141C","strokeWidth":2.5},"encoding":{"x":{"datum":{"year":2023,"month":1,"date":5,"hours":16,"minutes":33,"utc":true},"type":"temporal"},"x2":{"datum":{"year":2023,"month":2,"date":2,"hours":19,"minutes":55,"utc":true}},"y":{"datum":0.0588,"type":"quantitative"}}},
   {"data":{"values":[{}]},"mark":{"type":"rule","color":"#F5863A","strokeWidth":2.5},"encoding":{"x":{"datum":{"year":2023,"month":1,"date":5,"hours":16,"minutes":33,"utc":true},"type":"temporal"},"x2":{"datum":{"year":2023,"month":2,"date":2,"hours":19,"minutes":55,"utc":true}},"y":{"datum":0.0311,"type":"quantitative"}}},
   {"data":{"values":[{}]},"mark":{"type":"text","text":"Legend","fontSize":18,"align":"center","dx":184,"dy":23},"encoding":{"x":{"datum":{"year":2023,"month":1,"date":2,"hours":6,"minutes":42,"utc":true},"type":"temporal"},"y":{"datum":0.868,"type":"quantitative"}}},
   {"data":{"values":[{}]},"mark":{"type":"text","text":"Cal. Oil Rate - History","dx":79,"dy":45},"encoding":{"x":{"datum":{"year":2023,"month":1,"date":2,"hours":6,"minutes":42,"utc":true},"type":"temporal"},"y":{"datum":0.868,"type":"quantitative"}}},
   {"data":{"values":[{}]},"mark":{"type":"text","text":"A","dx":79,"dy":63},"encoding":{"x":{"datum":{"year":2023,"month":1,"date":2,"hours":6,"minutes":42,"utc":true},"type":"temporal"},"y":{"datum":0.868,"type":"quantitative"}}},
   {"data":{"values":[{}]},"mark":{"type":"text","text":"d min","fontSize":10,"dx":89.8,"dy":66},"encoding":{"x":{"datum":{"year":2023,"month":1,"date":2,"hours":6,"minutes":42,"utc":true},"type":"temporal"},"y":{"datum":0.868,"type":"quantitative"}}},
   {"data":{"values":[{}]},"mark":{"type":"text","text":"=19, b=1.000, EUR=132.694","dx":121.4,"dy":63},"encoding":{"x":{"datum":{"year":2023,"month":1,"date":2,"hours":6,"minutes":42,"utc":true},"type":"temporal"},"y":{"datum":0.868,"type":"quantitative"}}},
   {"data":{"values":[{}]},"mark":{"type":"text","text":"A","dx":79,"dy":81},"encoding":{"x":{"datum":{"year":2023,"month":1,"date":2,"hours":6,"minutes":42,"utc":true},"type":"temporal"},"y":{"datum":0.868,"type":"quantitative"}}},
   {"data":{"values":[{}]},"mark":{"type":"text","text":"50","fontSize":10,"dx":89.8,"dy":84},"encoding":{"x":{"datum":{"year":2023,"month":1,"date":2,"hours":6,"minutes":42,"utc":true},"type":"temporal"},"y":{"datum":0.868,"type":"quantitative"}}},
   {"data":{"values":[{}]},"mark":{"type":"text","text":"=42, b=1.000, EUR=132.465","dx":103.7,"dy":81},"encoding":{"x":{"datum":{"year":2023,"month":1,"date":2,"hours":6,"minutes":42,"utc":true},"type":"temporal"},"y":{"datum":0.868,"type":"quantitative"}}},
   {"data":{"values":[{}]},"mark":{"type":"text","text":"A","dx":79,"dy":99},"encoding":{"x":{"datum":{"year":2023,"month":1,"date":2,"hours":6,"minutes":42,"utc":true},"type":"temporal"},"y":{"datum":0.868,"type":"quantitative"}}},
   {"data":{"values":[{}]},"mark":{"type":"text","text":"d max","fontSize":10,"dx":89.8,"dy":102},"encoding":{"x":{"datum":{"year":2023,"month":1,"date":2,"hours":6,"minutes":42,"utc":true},"type":"temporal"},"y":{"datum":0.868,"type":"quantitative"}}},
   {"data":{"values":[{}]},"mark":{"type":"text","text":"=79, b=1.000, EUR=132.694","dx":124.7,"dy":99},"encoding":{"x":{"datum":{"year":2023,"month":1,"date":2,"hours":6,"minutes":42,"utc":true},"type":"temporal"},"y":{"datum":0.868,"type":"quantitative"}}},
   {"data":{"values":[{}]},"mark":{"type":"text","text":"Forecast","fontSize":17,"align":"center","dy":-17},"encoding":{"x":{"datum":{"year":2023,"month":5,"date":2,"hours":12,"utc":true},"type":"temporal"},"y":{"datum":1000,"type":"quantitative"}}},
   {"data":{"values":[{}]},"mark":{"type":"text","text":"Alkaid POC","fontSize":11,"dx":-4,"dy":-16},"encoding":{"x":{"datum":{"year":2023,"month":1,"date":1,"utc":true},"type":"temporal"},"y":{"datum":1000,"type":"quantitative"}}},
   {"data":{"values":[{}]},"mark":{"type":"text","text":"Cal. Oil Rate","angle":270,"align":"right","baseline":"middle","font":"Liberation Sans","fontWeight":"normal","fontSize":14},"encoding":{"x":{"datum":{"year":2022,"month":12,"date":2,"hours":14,"utc":true},"type":"temporal"},"y":{"datum":5.92,"type":"quantitative"}}},
   {"data":{"values":[{}]},"mark":{"type":"text","text":"(stb/d)","angle":270,"align":"left","baseline":"middle","font":"Liberation Sans","fontWeight":"normal","fontSize":14,"dx":4,"color":"#2B2BB8"},"encoding":{"x":{"datum":{"year":2022,"month":12,"date":2,"hours":14,"utc":true},"type":"temporal"},"y":{"datum":5.92,"type":"quantitative"}}}
  ]}
  ]}
 ]}
]
}
